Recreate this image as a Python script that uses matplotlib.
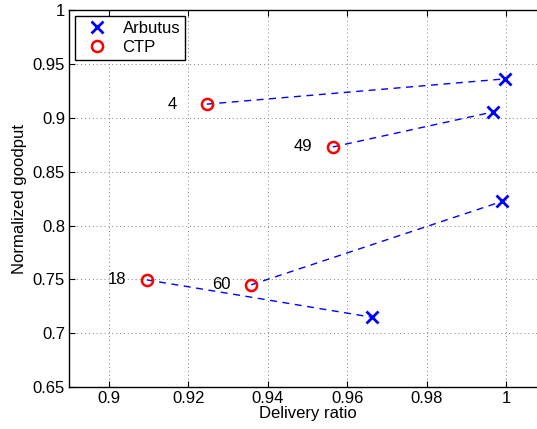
import matplotlib
matplotlib.use("Agg")
import matplotlib.pyplot as plt
from matplotlib.ticker import FuncFormatter

plt.rcParams['font.family'] = ['Liberation Sans', 'DejaVu Sans']

# delivery ratio / normalized goodput per topology
labels = ["4", "49", "18", "60"]
ctp_ratio = [0.9246, 0.9563, 0.9095, 0.9358]
ctp_goodput = [0.9128, 0.8730, 0.7495, 0.7449]
arbutus_ratio = [0.9997, 0.9967, 0.9663, 0.9989]
arbutus_goodput = [0.9363, 0.9056, 0.7147, 0.8224]

xticks = [0.9, 0.92, 0.94, 0.96, 0.98, 1.0]
yticks = [0.65, 0.7, 0.75, 0.8, 0.85, 0.9, 0.95, 1.0]

FS = 12

fig = plt.figure(figsize=(5.37, 4.29), dpi=100)
ax = fig.add_axes([0.129, 0.098, 0.888, 0.878])

for i in range(len(labels)):
    ax.plot([ctp_ratio[i], arbutus_ratio[i]], [ctp_goodput[i], arbutus_goodput[i]],
            '--', color='blue', linewidth=1.0, dashes=(5, 4))
    ax.text(ctp_ratio[i] - 0.0098, ctp_goodput[i], labels[i], fontsize=FS,
            ha='left', va='center')

h1, = ax.plot(arbutus_ratio, arbutus_goodput, 'x', color='blue', markersize=8.5,
              markeredgewidth=2, linestyle='none', label='Arbutus')
h2, = ax.plot(ctp_ratio, ctp_goodput, 'o', color='red', markerfacecolor='none',
              markersize=8, markeredgewidth=1.8, linestyle='none', label='CTP')

ax.set_xlim(0.89, 1.01)
ax.set_ylim(0.65, 1.0)
ax.set_xticks(xticks)
ax.set_yticks(yticks)
fmt = FuncFormatter(lambda v, p: '%g' % round(v, 3))
ax.xaxis.set_major_formatter(fmt)
ax.yaxis.set_major_formatter(fmt)
ax.tick_params(direction='in', top=True, right=True, labelsize=FS, length=4, pad=3)
ax.grid(True, linestyle=(0, (1, 3)), color='#808080', linewidth=0.7)
for s in ax.spines.values():
    s.set_linewidth(1.0)

ax.set_xlabel("Delivery ratio", fontsize=FS, labelpad=0)
ax.set_ylabel("Normalized goodput", fontsize=FS, labelpad=4)

leg = ax.legend(handles=[h1, h2], loc='upper left', fontsize=FS, fancybox=False,
                framealpha=1, edgecolor='black', borderaxespad=0.35,
                handletextpad=0.55, borderpad=0.3, labelspacing=0.25)
leg.get_frame().set_linewidth(1.0)

plt.savefig("out.png", dpi=100)
